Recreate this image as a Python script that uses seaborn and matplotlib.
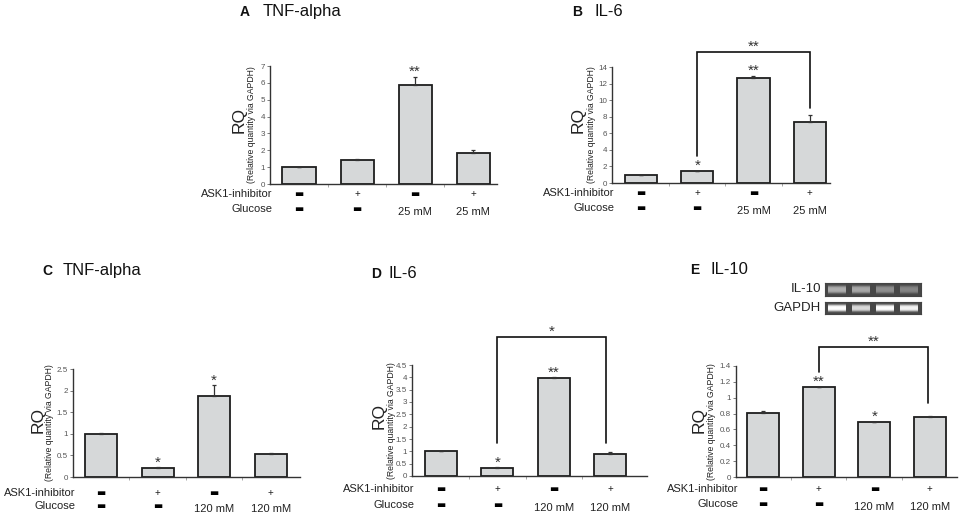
import numpy as np
import pandas as pd
import matplotlib
matplotlib.use("Agg")
import matplotlib.pyplot as plt
import seaborn as sns

# ---------------- data ----------------
groups = ["g1", "g2", "g3", "g4"]
ask1_inhibitor = ["−", "+", "−", "+"]
glucose_low = ["−", "−", "25 mM", "25 mM"]
glucose_high = ["−", "−", "120 mM", "120 mM"]

tnf_a_vals = [1.0, 1.45, 5.9, 1.85]
tnf_a_err = [0.0, 0.03, 0.45, 0.15]
tnf_a_stars = ["", "", "**", ""]

il6_b_vals = [1.0, 1.5, 12.7, 7.4]
il6_b_err = [0.0, 0.0, 0.2, 0.75]
il6_b_stars = ["", "*", "**", ""]

tnf_c_vals = [1.0, 0.2, 1.87, 0.53]
tnf_c_err = [0.02, 0.02, 0.25, 0.03]
tnf_c_stars = ["", "*", "*", ""]

il6_d_vals = [1.0, 0.32, 3.97, 0.9]
il6_d_err = [0.02, 0.03, 0.03, 0.07]
il6_d_stars = ["", "*", "**", ""]

il10_e_vals = [0.81, 1.13, 0.69, 0.76]
il10_e_err = [0.02, 0.01, 0.01, 0.01]
il10_e_stars = ["", "**", "*", ""]

gel_il10 = [0.68, 0.66, 0.56, 0.52]
gel_gapdh = [1.0, 0.85, 1.0, 0.95]

# ---------------- style ----------------
sns.set_theme(style="white")
plt.rcParams["font.family"] = ["Liberation Sans", "DejaVu Sans"]

W, H = 964, 514
fig = plt.figure(figsize=(W / 100, H / 100), dpi=100)

BAR_FC = "#d6d8d9"
BAR_EC = "#1e1e1e"
TXT = "#222222"


def fx(px):
    return px / W


def fy(py):
    return 1 - py / H


panels = [
    dict(letter="A", title="TNF-alpha", vals=tnf_a_vals, err=tnf_a_err, stars=tnf_a_stars,
         glu=glucose_low, box=(270, 497, 66, 184), xlim=(-0.5, 3.41), ymax=7, step=1,
         tpos=(240, 263, 16), rq=(239, 251, 120), rows=(10, 25), bracket=None),
    dict(letter="B", title="IL-6", vals=il6_b_vals, err=il6_b_err, stars=il6_b_stars,
         glu=glucose_low, box=(612, 830, 67, 183), xlim=(-0.515, 3.36), ymax=14, step=2,
         tpos=(572, 594, 16), rq=(578, 591, 120), rows=(10, 25),
         bracket=(1, 3, 3.3, 9.0, 15.8, "**")),
    dict(letter="C", title="TNF-alpha", vals=tnf_c_vals, err=tnf_c_err, stars=tnf_c_stars,
         glu=glucose_high, box=(73, 300, 369, 477), xlim=(-0.5, 3.52), ymax=2.5, step=0.5,
         tpos=(42, 63, 275), rq=(38, 50, 420), rows=(16, 29), bracket=None),
    dict(letter="D", title="IL-6", vals=il6_d_vals, err=il6_d_err, stars=il6_d_stars,
         glu=glucose_high, box=(412, 647, 365, 476), xlim=(-0.52, 3.66), ymax=4.5, step=0.5,
         tpos=(371, 389, 278), rq=(379, 391, 416), rows=(13, 29),
         bracket=(1, 2.93, 1.34, 1.34, 5.63, "*")),
    dict(letter="E", title="IL-10", vals=il10_e_vals, err=il10_e_err, stars=il10_e_stars,
         glu=glucose_high, box=(736, 957, 366, 477), xlim=(-0.49, 3.49), ymax=1.4, step=0.2,
         tpos=(690, 711, 274), rq=(699, 712, 420), rows=(12, 27),
         bracket=(1, 2.97, 1.32, 0.93, 1.64, "**")),
]

for p in panels:
    l, r, t, b = p["box"]
    ax = fig.add_axes([fx(l), fy(b), fx(r - l), (b - t) / H])
    df = pd.DataFrame({"group": groups, "value": p["vals"]})
    sns.barplot(data=df, x="group", y="value", ax=ax, color=BAR_FC, saturation=1,
                edgecolor=BAR_EC, linewidth=1.3, width=0.57, errorbar=None)
    xs = np.arange(len(groups))
    ax.errorbar(xs, p["vals"], yerr=[np.zeros(len(groups)), p["err"]], fmt="none",
                ecolor="#333333", elinewidth=0.9, capsize=1.6, capthick=0.9, zorder=1)
    ax.set_xlim(*p["xlim"])
    ax.set_ylim(0, p["ymax"])
    ticks = np.arange(0, p["ymax"] + p["step"] / 2, p["step"])
    ax.set_yticks(ticks)
    ax.set_yticklabels([f"{v:g}" for v in ticks])
    ax.set_xticks([0.5, 1.5, 2.5])
    ax.set_xticklabels([])
    ax.set_xlabel("")
    ax.set_ylabel("")
    for s in ["top", "right"]:
        ax.spines[s].set_visible(False)
    for s in ["left", "bottom"]:
        ax.spines[s].set_color("#333333")
        ax.spines[s].set_linewidth(1.0)
    ax.tick_params(axis="y", direction="out", length=2, width=0.6, color="#666666",
                   labelsize=5.8, labelcolor="#555555", pad=1.5, left=True)
    ax.tick_params(axis="x", direction="out", length=2, width=0.6, color="#999999", bottom=True)
    ax.patch.set_alpha(0)

    # stars
    for i, (v, e, s) in enumerate(zip(p["vals"], p["err"], p["stars"])):
        if s:
            ax.annotate(s, xy=(i, v + e), xytext=(0, 3.5), textcoords="offset points",
                        ha="center", va="center", fontsize=11, color="#333333")

    # bracket
    if p["bracket"]:
        x0, x1, yl, yr, yt, lab = p["bracket"]
        ax.plot([x0, x0, x1, x1], [yl, yt, yt, yr], color="#111111", lw=1.2,
                clip_on=False, solid_joinstyle="miter")
        ax.annotate(lab, xy=((x0 + x1) / 2, yt), xytext=(0, 3.5), textcoords="offset points",
                    ha="center", va="center", fontsize=11, color="#333333",
                    annotation_clip=False)

    # condition rows
    r1, r2 = p["rows"]
    ax.annotate("ASK1-inhibitor", xy=(0, 0), xycoords="axes fraction",
                xytext=(2, -r1 * 0.72), textcoords="offset points",
                ha="right", va="center", fontsize=8, color=TXT)
    ax.annotate("Glucose", xy=(0, 0), xycoords="axes fraction",
                xytext=(2, -r2 * 0.72), textcoords="offset points",
                ha="right", va="center", fontsize=8, color=TXT)
    for i, (a, g) in enumerate(zip(ask1_inhibitor, p["glu"])):
        for lab, dy in ((a, r1), (g, r2)):
            if lab == "−":
                ax.annotate("▬", xy=(i, 0), xycoords=("data", "axes fraction"),
                            xytext=(0, -dy * 0.72), textcoords="offset points",
                            ha="center", va="center", fontsize=7, color="#000000",
                            family="DejaVu Sans", annotation_clip=False)
            elif lab == "+":
                ax.annotate("+", xy=(i, 0), xycoords=("data", "axes fraction"),
                            xytext=(0, -dy * 0.72), textcoords="offset points",
                            ha="center", va="center", fontsize=7, color=TXT,
                            annotation_clip=False)
            else:
                ax.annotate(lab, xy=(i, 0), xycoords=("data", "axes fraction"),
                            xytext=(0, -(dy + 3) * 0.72), textcoords="offset points",
                            ha="center", va="center", fontsize=8, color=TXT,
                            annotation_clip=False)

    # y labels
    rqx, subx, ycen = p["rq"]
    fig.text(fx(rqx), fy(ycen), "RQ", rotation=90, ha="center", va="center",
             fontsize=12.5, color=TXT)
    fig.text(fx(subx), fy((t + b) / 2), "(Relative quantity via GAPDH)", rotation=90,
             ha="center", va="center", fontsize=6.2, color=TXT)

    # titles
    lx, tx, ty = p["tpos"]
    fig.text(fx(lx), fy(ty), p["letter"], ha="left", va="baseline", fontsize=10,
             fontweight="bold", color="#111111")
    fig.text(fx(tx), fy(ty), p["title"], ha="left", va="baseline", fontsize=12,
             color="#111111")


# gel images for panel E
def gel_image(levels, nrows=14, ncols=96):
    img = np.full((nrows, ncols), 0.28)
    lane_w = ncols / len(levels)
    yy = np.arange(nrows)
    prof = np.exp(-((yy - (nrows - 1) / 2) / (nrows * 0.28)) ** 4)
    for k, lv in enumerate(levels):
        c0 = int(k * lane_w + 3)
        c1 = int((k + 1) * lane_w - 3)
        img[:, c0:c1] = 0.28 + (lv - 0.28) * prof[:, None]
    return img


for lab, levels, (top, bot) in (("IL-10", gel_il10, (283, 296)),
                                ("GAPDH", gel_gapdh, (302, 314))):
    gax = fig.add_axes([fx(825), fy(bot), fx(921 - 825), (bot - top) / H])
    gax.imshow(gel_image(levels), cmap="gray", vmin=0, vmax=1, aspect="auto",
               interpolation="bilinear")
    gax.set_xticks([])
    gax.set_yticks([])
    for s in gax.spines.values():
        s.set_color("#444444")
        s.set_linewidth(0.8)
    fig.text(fx(821), fy((top + bot) / 2), lab, ha="right", va="center",
             fontsize=9.5, color=TXT)

fig.savefig("out.png", dpi=100)
